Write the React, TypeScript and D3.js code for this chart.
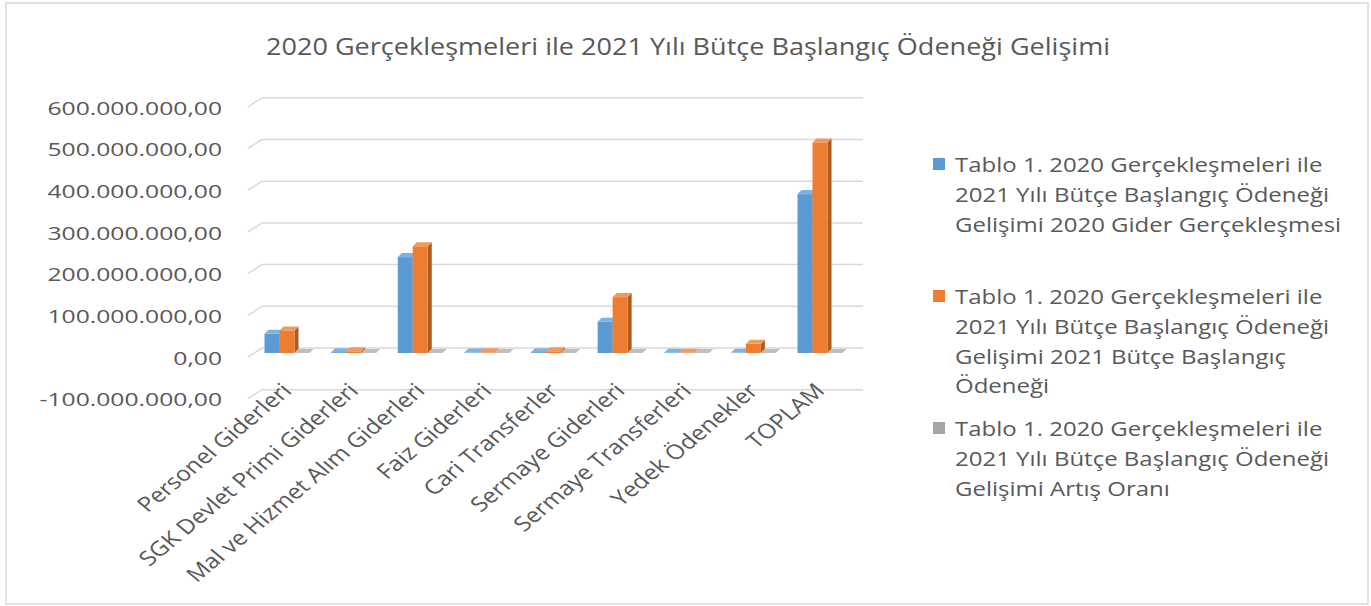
import React from "react";
import * as d3 from "d3";

const categories = [
  "Personel Giderleri",
  "SGK Devlet Primi Giderleri",
  "Mal ve Hizmet Alım Giderleri",
  "Faiz Giderleri",
  "Cari Transferler",
  "Sermaye Giderleri",
  "Sermaye Transferleri",
  "Yedek Ödenekler",
  "TOPLAM",
];
const gider2020 = [46e6, 2e6, 230e6, 1e6, 2e6, 75e6, 0.8e6, 0.3e6, 381e6];
const butce2021 = [54e6, 4e6, 256e6, 1.5e6, 4e6, 134e6, 0.8e6, 22e6, 505e6];
const artisOrani = [0.17, 0.5, 0.11, 0.2, 0.6, 0.79, 0.0, 70, 0.33];
const yTicks = [-100e6, 0, 100e6, 200e6, 300e6, 400e6, 500e6, 600e6];
const titleText = "2020 Gerçekleşmeleri ile 2021 Yılı Bütçe Başlangıç Ödeneği Gelişimi";
const seriesKeys = ["gider", "butce", "artis"];
const legendLines = [
  ["Tablo 1. 2020 Gerçekleşmeleri ile", "2021 Yılı Bütçe Başlangıç Ödeneği", "Gelişimi 2020 Gider Gerçekleşmesi"],
  ["Tablo 1. 2020 Gerçekleşmeleri ile", "2021 Yılı Bütçe Başlangıç Ödeneği", "Gelişimi 2021 Bütçe Başlangıç", "Ödeneği"],
  ["Tablo 1. 2020 Gerçekleşmeleri ile", "2021 Yılı Bütçe Başlangıç Ödeneği", "Gelişimi Artış Oranı"],
];

const COLORS = [
  { front: "#5b9bd5", side: "#41719c", top: "#7fb2e0" },
  { front: "#ed7d31", side: "#ae5a21", top: "#f29a5e" },
  { front: "#a5a5a5", side: "#7b7b7b", top: "#bfbfbf" },
];
const TEXT = "#595959";
const FONT = "'Open Sans', 'Noto Sans', sans-serif";

const locale = d3.formatLocale({
  decimal: ",",
  thousands: ".",
  grouping: [3],
  currency: ["", ""],
  minus: "-",
});
const fmt = locale.format(",.2f");

export default function App() {
  const W = 1371;
  const H = 606;
  const y = d3.scaleLinear().domain([-100e6, 600e6]).range([394.7, 102.8]);
  const x = d3.scalePoint<string>().domain(categories).range([287, 820]);
  const xs = d3.scaleBand<string>().domain(seriesKeys).range([-22.5, 22.5]);
  const DX = 4;
  const DY = 4;
  const gridShift = 5;
  const gridX0 = 262;
  const gridX1 = 863;
  const series = [gider2020, butce2021, artisOrani];

  const bars: React.ReactNode[] = [];
  categories.forEach((c, i) => {
    series.forEach((vals, s) => {
      const v = vals[i];
      const x0 = (x(c) as number) + (xs(seriesKeys[s]) as number);
      const w = xs.bandwidth();
      const yb = y(0);
      const yt = y(v);
      const col = COLORS[s];
      bars.push(
        <g key={`${i}-${s}`}>
          <polygon
            points={`${x0 + w},${yb} ${x0 + w + DX},${yb - DY} ${x0 + w + DX},${yt - DY} ${x0 + w},${yt}`}
            fill={col.side}
          />
          <rect x={x0} y={yt} width={w} height={Math.max(0, yb - yt)} fill={col.front} />
          <polygon
            points={`${x0},${yt} ${x0 + w},${yt} ${x0 + w + DX},${yt - DY} ${x0 + DX},${yt - DY}`}
            fill={col.top}
          />
        </g>
      );
    });
  });

  return (
    <div style={{ position: "absolute", left: 0, top: 0 }}>
      <svg width={W} height={H} style={{ display: "block", background: "#fff" }} fontFamily={FONT}>
        <rect x={6} y={3} width={1362} height={601} fill="#fff" stroke="#d9d9d9" strokeWidth={1.5} />
        <text
          x={688}
          y={45}
          textAnchor="middle"
          dominantBaseline="central"
          fontSize={24}
          fill={TEXT}
          textLength={844}
          lengthAdjust="spacingAndGlyphs"
        >
          {titleText}
        </text>

        {/* gridlines */}
        {yTicks.map((t) => {
          const gy = y(t) - gridShift;
          return (
            <g key={t}>
              <line x1={gridX0 - 14} y1={gy + 9} x2={gridX0} y2={gy} stroke="#d9d9d9" strokeWidth={1.5} />
              <line x1={gridX0} y1={gy} x2={gridX1} y2={gy} stroke="#d9d9d9" strokeWidth={1.5} />
            </g>
          );
        })}

        {/* y labels */}
        {yTicks.map((t) => (
          <text
            key={`l${t}`}
            transform={`translate(222,${y(t) + 4}) scale(1.3,1)`}
            textAnchor="end"
            dominantBaseline="central"
            fontSize={19}
            fill={TEXT}
          >
            {fmt(t)}
          </text>
        ))}

        {bars}

        {/* x labels */}
        {categories.map((c) => (
          <text
            key={`x${c}`}
            transform={`translate(${(x(c) as number) + 6},${392}) scale(1.2,1) rotate(-45)`}
            textAnchor="end"
            fontSize={20.5}
            fill={TEXT}
          >
            {c}
          </text>
        ))}

        {/* legend */}
        {legendLines.map((lines, i) => {
          const y0 = 164 + i * 132;
          return (
            <g key={`lg${i}`}>
              <rect x={933} y={y0 - 6} width={12} height={12} fill={COLORS[i].front} />
              {lines.map((ln, j) => (
                <text
                  key={j}
                  transform={`translate(955,${y0 + j * 29.7}) scale(1.2,1)`}
                  dominantBaseline="central"
                  fontSize={20}
                  fill={TEXT}
                >
                  {ln}
                </text>
              ))}
            </g>
          );
        })}
      </svg>
    </div>
  );
}
